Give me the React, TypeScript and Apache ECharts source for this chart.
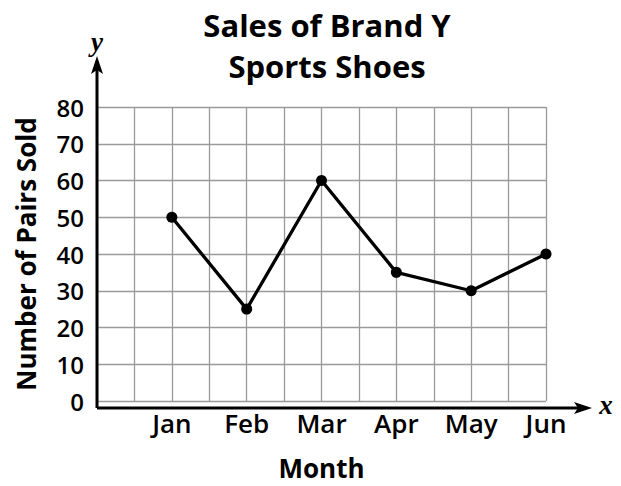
import React, { useEffect, useRef } from "react";
import * as echarts from "echarts";

const months = ["Jan", "Feb", "Mar", "Apr", "May", "Jun"];
const pairsSold = [50, 25, 60, 35, 30, 40];
const yTicks = [0, 10, 20, 30, 40, 50, 60, 70, 80];

const FONT = "'Open Sans', 'Noto Sans', sans-serif";

export default function App() {
  const ref = useRef<HTMLDivElement>(null);
  useEffect(() => {
    if (!ref.current) return;
    const chart = echarts.init(ref.current, null, { renderer: "svg" });
    const data = months.map((m, i) => [2 * (i + 1), pairsSold[i]]);
    chart.setOption({
      animation: false,
      backgroundColor: "#ffffff",
      title: {
        text: "Sales of Brand Y\nSports Shoes",
        left: 322,
        textAlign: "center",
        top: -1,
        textStyle: {
          fontFamily: FONT,
          fontWeight: "bold",
          fontSize: 31,
          lineHeight: 41,
          color: "#000",
        },
      },
      grid: { left: 97, right: 75, top: 107, bottom: 79, containLabel: false },
      xAxis: {
        type: "value",
        min: 0,
        max: 12,
        interval: 1,
        name: "Month",
        nameLocation: "middle",
        nameGap: 54,
        nameTextStyle: { fontFamily: FONT, fontWeight: "bold", fontSize: 26, color: "#000" },
        axisLine: { show: false },
        axisTick: { show: false },
        axisLabel: {
          fontFamily: FONT,
          fontSize: 26,
          fontWeight: 600,
          color: "#000",
          margin: 9,
          showMinLabel: true,
          showMaxLabel: true,
          formatter: (v: number) => (v >= 2 && v % 2 === 0 ? months[v / 2 - 1] : ""),
        },
        splitLine: { show: true, lineStyle: { color: "#9a9a9a", width: 1.3 } },
      },
      yAxis: {
        type: "value",
        min: yTicks[0],
        max: yTicks[yTicks.length - 1],
        interval: 10,
        name: "Number of Pairs Sold",
        nameLocation: "middle",
        nameGap: 58,
        nameTextStyle: { fontFamily: FONT, fontWeight: "bold", fontSize: 26, color: "#000" },
        axisLine: { show: false },
        axisTick: { show: false },
        axisLabel: { fontFamily: FONT, fontSize: 24, fontWeight: 600, color: "#000", margin: 13 },
        splitLine: { show: true, lineStyle: { color: "#9a9a9a", width: 1.3 } },
      },
      graphic: [
        { type: "line", shape: { x1: 97, y1: 408, x2: 578, y2: 408 }, style: { stroke: "#000", lineWidth: 3 }, z: 100 },
        { type: "polygon", shape: { points: [[592, 408], [574, 402], [578, 408], [574, 414]] }, style: { fill: "#000" }, z: 100 },
        { type: "line", shape: { x1: 97, y1: 408, x2: 97, y2: 70 }, style: { stroke: "#000", lineWidth: 3 }, z: 100 },
        { type: "polygon", shape: { points: [[97, 56], [91, 74], [97, 70], [103, 74]] }, style: { fill: "#000" }, z: 100 },
        { type: "text", style: { text: "y", x: 97, y: 42, align: "center", verticalAlign: "middle", font: "italic bold 27px 'Liberation Serif', serif", fill: "#000" } },
        { type: "text", style: { text: "x", x: 606, y: 405, align: "center", verticalAlign: "middle", font: "italic bold 27px 'Liberation Serif', serif", fill: "#000" } },
      ],
      series: [
        {
          type: "line",
          data,
          symbol: "circle",
          symbolSize: 11,
          lineStyle: { color: "#000", width: 3.3 },
          itemStyle: { color: "#000" },
          z: 10,
        },
      ],
    });
    return () => chart.dispose();
  }, []);
  return <div ref={ref} style={{ width: 621, height: 486, position: "absolute", left: 0, top: 0 }} />;
}
